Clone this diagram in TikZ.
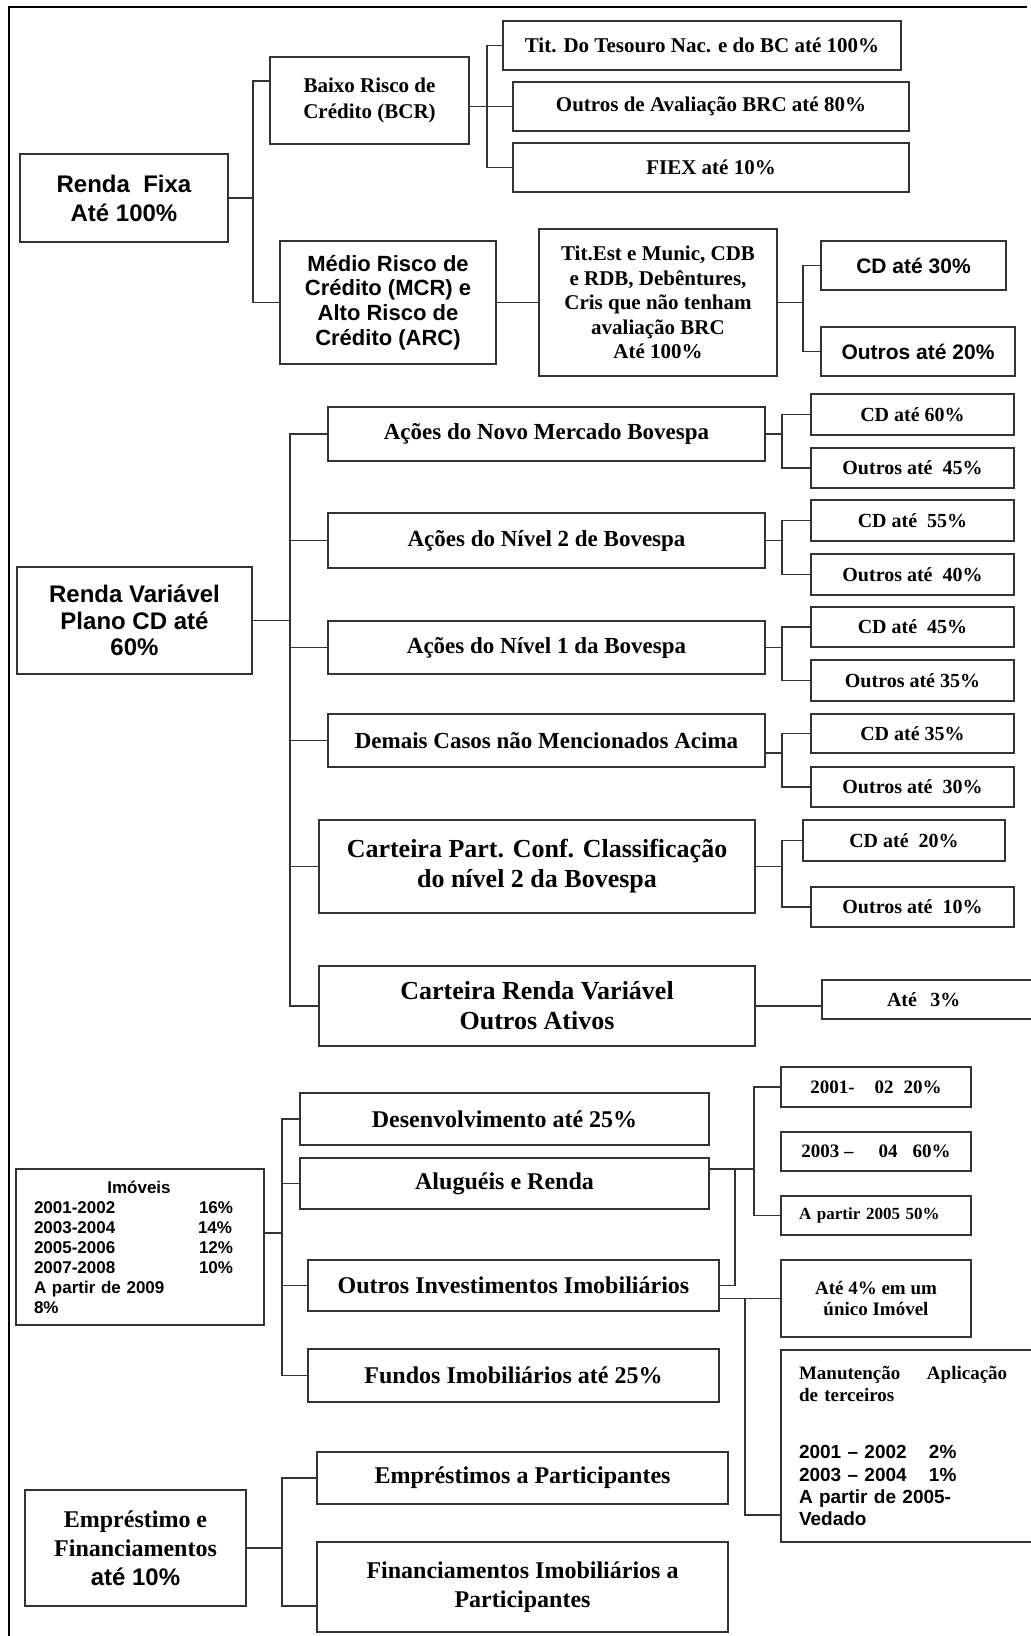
\documentclass[tikz,border=0pt]{standalone}
\usepackage{fontspec}
\setmainfont{Liberation Serif}
\setsansfont{Liberation Sans}
\usepackage{tikz}

\tikzset{
    box/.style={draw=black!80, line width=0.6pt, inner sep=0pt, align=center},
    sz/.style 2 args={minimum width=#1*0.5pt, minimum height=#2*0.5pt},
    serifb/.style 2 args={font={\fontsize{#1}{#2}\selectfont\rmfamily\bfseries}},
    sansb/.style 2 args={font={\fontsize{#1}{#2}\selectfont\sffamily\bfseries}},
    link/.style={draw=black!80, line width=0.6pt},
}

\begin{document}
\begin{tikzpicture}[x=0.5pt, y=-0.5pt]
            \useasboundingbox (0,0) rectangle (1031,1636);
            \clip (0,0) rectangle (1031,1636);
            \draw[line width=1.2pt] (9,1636) -- (9,7) -- (1027,7);

            \node[box, sansb={12}{14.5}, sz={208}{88}] (rf) at (124,198) {Renda\ \ Fixa\\Até 100\%};
            \node[box, serifb={10.5}{12.8}, sz={199}{87}] (bcr) at (369.5,100.5) {Baixo Risco de\\Crédito (BCR)};
            \node[box, sansb={11}{12.3}, sz={216}{123}] (mcr) at (388,302.5) {Médio Risco de\\Crédito (MCR) e\\Alto Risco de\\Crédito (ARC)};
            \node[box, serifb={10.5}{12.3}, sz={398}{49}] (tes) at (702,45.5) {Tit. Do Tesouro Nac. e do BC até 100\%};
            \node[box, serifb={10.5}{12.3}, sz={396}{49}] (oav) at (711,106.5) {Outros de Avaliação BRC até 80\%};
            \node[box, serifb={10.5}{12.3}, sz={396}{49}] (fiex) at (711,167.5) {FIEX até 10\%};
            \node[box, serifb={10.5}{12.3}, sz={238}{147}] (test) at (658,302.5) {Tit.Est e Munic, CDB\\e RDB, Debêntures,\\Cris que não tenham\\avaliação BRC\\Até 100\%};
            \node[box, sansb={10.5}{12.3}, sz={185}{49}] (cd30) at (913.5,265.5) {CD até 30\%};
            \node[box, sansb={10.5}{12.3}, sz={194}{49}] (out20) at (918,351.5) {Outros até 20\%};

            \node[box, sansb={12}{13.3}, sz={235}{107}] (rv) at (134.5,620.5) {Renda Variável\\Plano CD até\\60\%};
            \node[box, serifb={11.5}{13}, sz={437}{54}] (a1) at (546.5,434) {Ações do Novo Mercado Bovespa};
            \node[box, serifb={11.5}{13}, sz={437}{55}] (a2) at (546.5,540.5) {Ações do Nível 2 de Bovespa};
            \node[box, serifb={11.5}{13}, sz={437}{53}] (a3) at (546.5,647.5) {Ações do Nível 1 da Bovespa};
            \node[box, serifb={11.5}{13}, sz={437}{53}] (a4) at (546.5,740.5) {Demais Casos não Mencionados Acima};
            \node[box, serifb={13}{15}, sz={436}{93}] (a5) at (537,866.5) {Carteira Part. Conf. Classificação\\do nível 2 da Bovespa};
            \node[box, serifb={13}{15}, sz={436}{80}] (a6) at (537,1006) {Carteira Renda Variável\\Outros Ativos};

            \node[box, serifb={10}{12}, sz={203}{41}] (c60) at (912.5,414.5) {CD até 60\%};
            \node[box, serifb={10}{12}, sz={203}{40}] (o45) at (912.5,468) {Outros até\ \ 45\%};
            \node[box, serifb={10}{12}, sz={203}{41}] (c55) at (912.5,520.5) {CD até\ \ 55\%};
            \node[box, serifb={10}{12}, sz={203}{41}] (o40) at (912.5,574.5) {Outros até\ \ 40\%};
            \node[box, serifb={10}{12}, sz={203}{40}] (c45) at (912.5,627) {CD até\ \ 45\%};
            \node[box, serifb={10}{12}, sz={203}{41}] (o35) at (912.5,680.5) {Outros até 35\%};
            \node[box, serifb={10}{12}, sz={203}{39}] (c35) at (912.5,733.5) {CD até 35\%};
            \node[box, serifb={10}{12}, sz={203}{40}] (o30) at (912.5,787) {Outros até\ \ 30\%};
            \node[box, serifb={10}{12}, sz={202}{41}] (c20) at (904,840.5) {CD até\ \ 20\%};
            \node[box, serifb={10}{12}, sz={203}{40}] (o10) at (912.5,907) {Outros até\ \ 10\%};
            \node[box, serifb={10}{12}, sz={238}{39}, align=left, text width=54pt, inner xsep=32.5pt] (a3p) at (941,999.5) {Até\ \ 3\%};

            \node[box, sansb={8.5}{10}, sz={248}{156}, align=left, text width=106pt, inner xsep=9pt] (imo) at (140,1247) {\makebox[105pt]{Imóveis}\\
                \makebox[82.5pt][l]{2001-2002}16\%\\
                \makebox[82pt][l]{2003-2004}14\%\\
                \makebox[82.5pt][l]{2005-2006}12\%\\
                \makebox[82.5pt][l]{2007-2008}10\%\\
                A partir de 2009\\
                8\%};
            \node[box, serifb={12}{14}, sz={409}{52}] (des) at (504.5,1119) {Desenvolvimento até 25\%};
            \node[box, serifb={12}{14}, sz={409}{51}] (alug) at (504.5,1183.5) {Aluguéis e Renda};
            \node[box, serifb={12}{14}, sz={411}{51}] (oinv) at (513.5,1285.5) {Outros Investimentos Imobiliários};
            \node[box, serifb={12}{14}, sz={411}{53}] (fund) at (513.5,1375.5) {Fundos Imobiliários até 25\%};

            \node[box, serifb={9.5}{11}, sz={190}{40}] (y01) at (876,1087) {2001-\hspace{10pt}02\hspace{5pt}20\%};
            \node[box, serifb={9.5}{11}, sz={190}{39}] (y03) at (876,1151.5) {2003 –\hspace{12.5pt}04\hspace{7.5pt}60\%};
            \node[box, serifb={8.5}{10}, sz={190}{39}, align=left, text width=77pt, inner xsep=9pt] (y05) at (876,1215.5) {A partir 2005 50\%};
            \node[box, serifb={9.5}{10.8}, sz={190}{77}] (aq4) at (876,1298.5) {Até 4\% em um\\único Imóvel};
            \node[box, serifb={9.5}{11.2}, sz={264}{192}, align=left, text width=114pt, inner xsep=9pt] (manut) at (913,1446) {\makebox[64pt][l]{Manutenção}Aplicação\\
                de terceiros\\[17.3pt]
                \sffamily\makebox[65pt][l]{2001 – 2002}2\%\\
                \makebox[65pt][l]{2003 – 2004}1\%\\
                A partir de 2005-\\
                Vedado};

            \node[box, serifb={12}{14.5}, sz={221}{116}] (emp) at (135.5,1548) {Empréstimo e\\Financiamentos\\{\sffamily até 10\%}};
            \node[box, serifb={12}{14.5}, sz={411}{52}] (epart) at (522.5,1478) {Empréstimos a Participantes};
            \node[box, serifb={12}{14.5}, sz={411}{90}] (fpart) at (522.5,1587) {Financiamentos Imobiliários a\\Participantes};

            \coordinate (k1) at (253,198);
            \coordinate (k2) at (487,106.5);
            \coordinate (k3) at (803,302.5);
            \coordinate (k4) at (290,620.5);
            \coordinate (k5) at (782,434);
            \coordinate (k10) at (282,1233);
            \coordinate (k11) at (754,1169);
            \coordinate (k12) at (735,1169);
            \coordinate (k13) at (745,1298.5);
            \coordinate (k14) at (282,1548);

            \draw[link] (rf.east) -- (k1);
            \draw[link] ([yshift=9.75pt]bcr.west) -| (k1) |- (mcr.west);
            \draw[link] (bcr.east |- oav.west) -- (oav.west);
            \draw[link] (tes.west) -| (k2) |- (fiex.west);
            \draw[link] (mcr.east) -- (test.west);
            \draw[link] (test.east) -- (k3);
            \draw[link] (cd30.west) -| (k3) |- (out20.west);

            \draw[link] (rv.east) -- (k4);
            \draw[link] (a1.west) -| (k4) |- (a6.west);
            \draw[link] (a2.west) -- (a2.west -| k4);
            \draw[link] (a3.west) -- (a3.west -| k4);
            \draw[link] (a4.west) -- (a4.west -| k4);
            \draw[link] (a5.west) -- (a5.west -| k4);

            \draw[link] (a1.east) -- (a1.east -| k5);
            \draw[link] (c60.west) -| (a1.east -| k5) |- (o45.west);
            \draw[link] (a2.east) -- (a2.east -| k5);
            \draw[link] (c55.west) -| (a2.east -| k5) |- (o40.west);
            \draw[link] (a3.east) -- (a3.east -| k5);
            \draw[link] (c45.west) -| (a3.east -| k5) |- (o35.west);
            \draw[link] ([yshift=-6.25pt]a4.east) -- ([yshift=-6.25pt]a4.east -| k5);
            \draw[link] (c35.west) -| ([yshift=-6.25pt]a4.east -| k5) |- (o30.west);
            \draw[link] (a5.east) -- (a5.east -| k5);
            \draw[link] (c20.west) -| (a5.east -| k5) |- (o10.west);
            \draw[link] (a6.east) -- (a6.east -| a3p.west);

            \draw[link] (imo.east |- k10) -- (k10);
            \draw[link] (des.west) -| (k10) |- (fund.west);
            \draw[link] (alug.west) -- (alug.west -| k10);
            \draw[link] (oinv.west) -- (oinv.west -| k10);
            \draw[link] ([yshift=7.25pt]alug.east) -- (k11);
            \draw[link] (y01.west) -| (k11) |- (y05.west);
            \draw[link] (oinv.east) -| (k12);
            \draw[link] (oinv.east |- aq4.west) -- (aq4.west);
            \draw[link] (k13) |- ([yshift=-34.5pt]manut.west);

            \draw[link] (emp.east) -- (k14);
            \draw[link] (epart.west) -| (k14) |- ([yshift=-9.5pt]fpart.west);
        \end{tikzpicture}
\end{document}
